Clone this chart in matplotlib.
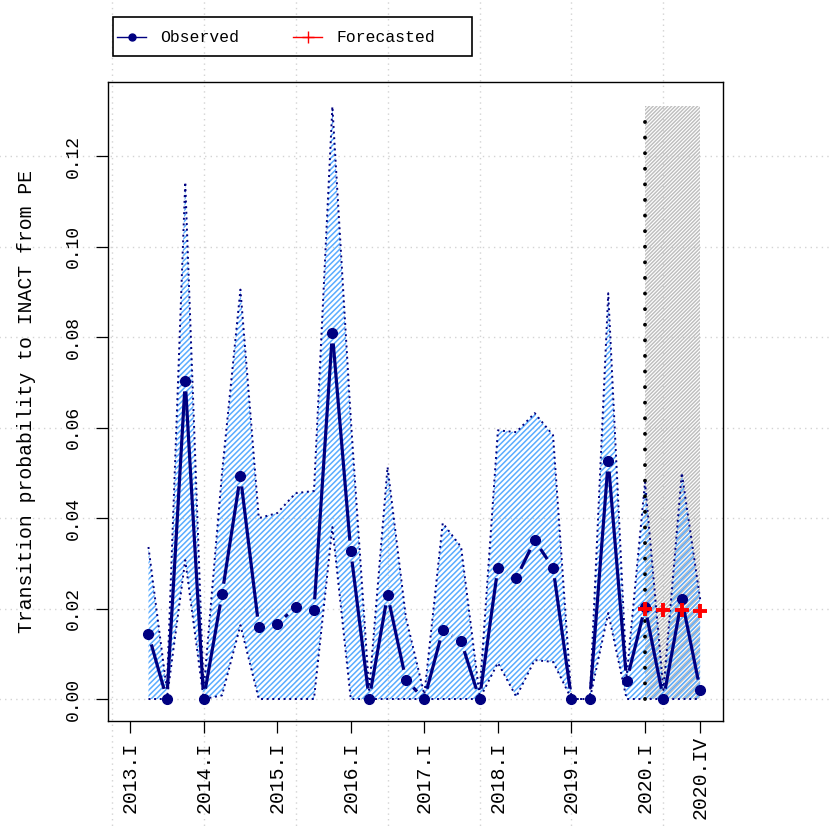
import matplotlib
matplotlib.use("Agg")
import matplotlib.pyplot as plt
import numpy as np
from matplotlib.lines import Line2D
from matplotlib.patches import Rectangle

plt.rcParams['font.family'] = ['Liberation Mono', 'DejaVu Sans Mono']

# ---------------- data ----------------
years = [2013, 2014, 2015, 2016, 2017, 2018, 2019, 2020]
roman = ['I', 'II', 'III', 'IV']
quarters = [f"{y}.{r}" for y in years for r in roman]          # index 1..32

# observed series: 2013.II .. 2020.IV
obs_values = [0.0143, 0.0, 0.0703, 0.0, 0.0232, 0.0493, 0.0159, 0.0166,
              0.0203, 0.0197, 0.0809, 0.0327, 0.0, 0.0230, 0.0042, 0.0,
              0.0152, 0.0128, 0.0, 0.0290, 0.0267, 0.0351, 0.0290, 0.0,
              0.0, 0.0526, 0.0040, 0.0203, 0.0, 0.0221, 0.0020]
upper_band = [0.0336, 0.002, 0.1143, 0.002, 0.050, 0.0905, 0.040, 0.0411,
              0.0455, 0.046, 0.131, 0.062, 0.002, 0.0513, 0.018, 0.001,
              0.0389, 0.0336, 0.001, 0.0594, 0.059, 0.0632, 0.0583, 0.0,
              0.0, 0.0897, 0.005, 0.048, 0.002, 0.050, 0.022]
lower_band = [0.0, 0.0, 0.0307, 0.0, 0.0008, 0.0163, 0.0, 0.0,
              0.0, 0.0, 0.038, 0.0, 0.0, 0.0, 0.0, 0.0,
              0.0, 0.0, 0.0, 0.0080, 0.0005, 0.0086, 0.0082, 0.0,
              0.0, 0.019, 0.0, 0.0, 0.0, 0.0, 0.0]
obs_quarters = quarters[1:]

# forecasts: 2020.I .. 2020.IV
fc_quarters = ['2020.I', '2020.II', '2020.III', '2020.IV']
fc_values = [0.0198, 0.0196, 0.0196, 0.0195]

tick_labels = ['2013.I', '2014.I', '2015.I', '2016.I', '2017.I',
               '2018.I', '2019.I', '2020.I', '2020.IV']
ytick_values = [0.00, 0.02, 0.04, 0.06, 0.08, 0.10, 0.12]
ylabel = "Transition probability to INACT from PE"

# ---------------- figure ----------------
W = 830
fig = plt.figure(figsize=(8.3, 8.3), dpi=100)
ax = fig.add_axes([108 / W, 1 - 721 / W, (723 - 108) / W, (721 - 82) / W])

pos = {q: i + 1 for i, q in enumerate(quarters)}
t_obs = np.array([pos[q] for q in obs_quarters])
t_fc = np.array([pos[q] for q in fc_quarters])
obs = np.array(obs_values)
up = np.array(upper_band)
lo = np.array(lower_band)

ax.set_xlim(-0.2, 33.24)
ax.set_ylim(-0.00486, 0.1364)

navy = '#000080'

# grid (extends over whole figure)
for gx in range(0, 31, 5):
    ax.axvline(gx, ymin=-0.2, ymax=1.2, color='#D3D3D3', lw=1.0,
               linestyle=(0, (1, 3)), clip_on=False, zorder=0.5)
for gy in ytick_values:
    ax.axhline(gy, xmin=-0.2, xmax=1.2, color='#D3D3D3', lw=1.0,
               linestyle=(0, (1, 3)), clip_on=False, zorder=0.5)

# forecast window shaded
plt.rcParams['hatch.linewidth'] = 1.05
ax.add_patch(Rectangle((pos['2020.I'], 0), pos['2020.IV'] - pos['2020.I'], up.max(),
                       facecolor='none', edgecolor='#BEBEBE', hatch='/////////',
                       lw=0, zorder=1))

# confidence band
plt.rcParams['hatch.linewidth'] = 1.1
ax.fill_between(t_obs, lo, up, facecolor='none', edgecolor='#5AACFF',
                hatch='//////', lw=0, zorder=2)
ax.plot(t_obs, up, color=navy, lw=1.4, linestyle=(0, (1, 1.9)), zorder=3)
ax.plot(t_obs, lo, color=navy, lw=1.4, linestyle=(0, (1, 1.9)), zorder=3)

# vertical dotted line at forecast start
ax.plot([pos['2020.I'], pos['2020.I']], [0, 0.128], color='black', lw=2.8,
        linestyle=(0, (0.01, 4.0)), dash_capstyle='round', zorder=4)

# observed line (type "b": gaps around points)
pts = ax.transData.transform(np.column_stack([t_obs, obs]))
gap = 10.5
inv = ax.transData.inverted()
for i in range(len(pts) - 1):
    p0, p1 = pts[i], pts[i + 1]
    d = p1 - p0
    L = np.hypot(d[0], d[1])
    if L > 2 * gap:
        u = d / L
        seg = inv.transform(np.array([p0 + u * gap, p1 - u * gap]))
        ax.plot(seg[:, 0], seg[:, 1], color=navy, lw=2.3,
                solid_capstyle='butt', zorder=5)
ax.plot(t_obs, obs, linestyle='none', marker='o', ms=7, color=navy, zorder=6)

# forecasts
ax.plot(t_fc, fc_values, linestyle='none', marker='+', ms=10, mew=2.8,
        color='red', zorder=7)

# axes styling
for s in ax.spines.values():
    s.set_linewidth(1.0)
    s.set_color('black')
ax.set_xticks([pos[q] for q in tick_labels])
ax.set_xticklabels(tick_labels, fontsize=14.2)
ax.set_yticks(ytick_values)
ax.set_yticklabels([f"{v:.2f}" for v in ytick_values], fontsize=13)
ax.tick_params(axis='x', length=8.6, width=0.9, pad=31.7)
ax.tick_params(axis='y', length=8.6, width=0.9, pad=16.6)
for lab in ax.get_xticklabels():
    lab.set_rotation(90)
    lab.set_va('center')
    lab.set_ha('center')
for lab in ax.get_yticklabels():
    lab.set_rotation(90)
    lab.set_va('center')
    lab.set_ha('center')
ax.set_ylabel(ylabel, fontsize=14.2, va='center')
ax.yaxis.set_label_coords((27 - 108) / (723 - 108), 0.5)

# legend (outside, above the plot)
def fx(x):
    return x / W
def fy(y):
    return 1 - y / W

fig.add_artist(Rectangle((fx(113), fy(56)), fx(472 - 113), (56 - 17) / W,
                         transform=fig.transFigure, fill=False,
                         edgecolor='black', lw=1.2))
ly = fy(37)
fig.add_artist(Line2D([fx(117), fx(146)], [ly, ly], transform=fig.transFigure,
                      color=navy, lw=1.0))
fig.add_artist(Line2D([fx(131.5)], [ly], transform=fig.transFigure,
                      color=navy, marker='o', ms=5, linestyle='none'))
fig.text(fx(160), ly, 'Observed', fontsize=11.8, va='center', ha='left')
fig.add_artist(Line2D([fx(293), fx(322)], [ly, ly], transform=fig.transFigure,
                      color='red', lw=1.0))
fig.add_artist(Line2D([fx(307.5)], [ly], transform=fig.transFigure,
                      color='red', marker='+', ms=9, mew=1.0, linestyle='none'))
fig.text(fx(336), ly, 'Forecasted', fontsize=11.8, va='center', ha='left')

fig.savefig('out.png', dpi=100)
